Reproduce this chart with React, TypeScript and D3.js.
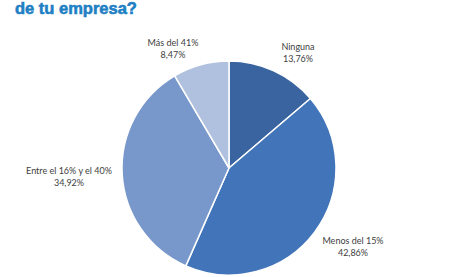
import React from "react";
import * as d3 from "d3";

const categories = ["Ninguna", "Menos del 15%", "Entre el 16% y el 40%", "Más del 41%"];
const values = [13.76, 42.86, 34.92, 8.47];
const valueLabels = ["13,76%", "42,86%", "34,92%", "8,47%"];
const title = "de tu empresa?";

const colors = ["#3a64a0", "#4174b8", "#7898cc", "#b0c0df"];
const labelPos: [number, number][] = [
  [298, 47],
  [353, 241],
  [69, 171],
  [173, 43],
];

const W = 470;
const H = 277;
const cx = 229;
const cy = 168;
const R = 107;

export default function App() {
  const pie = d3
    .pie<number>()
    .sort(null)
    .value((d) => d);
  const arcs = pie(values);
  const arc = d3.arc<d3.PieArcDatum<number>>().innerRadius(0).outerRadius(R);

  return (
    <svg
      width={W}
      height={H}
      style={{ position: "absolute", left: 0, top: 0, background: "#fff" }}
    >
      <rect width={W} height={H} fill="#fff" />
      <text
        x={15}
        y={13.5}
        fontFamily="Liberation Sans, Arial, sans-serif"
        fontWeight="bold"
        fontSize={16.5}
        fill="#1f7fc4"
        stroke="#1f7fc4"
        strokeWidth={0.6}
      >
        {title}
      </text>
      <g transform={`translate(${cx},${cy})`}>
        {arcs.map((a, i) => (
          <path
            key={categories[i]}
            d={arc(a) || ""}
            fill={colors[i]}
            stroke="#fff"
            strokeWidth={1.5}
            strokeLinejoin="round"
          />
        ))}
      </g>
      {categories.map((c, i) => (
        <text
          key={c}
          x={labelPos[i][0]}
          y={labelPos[i][1]}
          textAnchor="middle"
          fontFamily="Lato, sans-serif"
          fontSize={9}
          fill="#404040"
        >
          <tspan x={labelPos[i][0]} dy="0.35em">
            {c}
          </tspan>
          <tspan x={labelPos[i][0]} dy="12">
            {valueLabels[i]}
          </tspan>
        </text>
      ))}
    </svg>
  );
}
